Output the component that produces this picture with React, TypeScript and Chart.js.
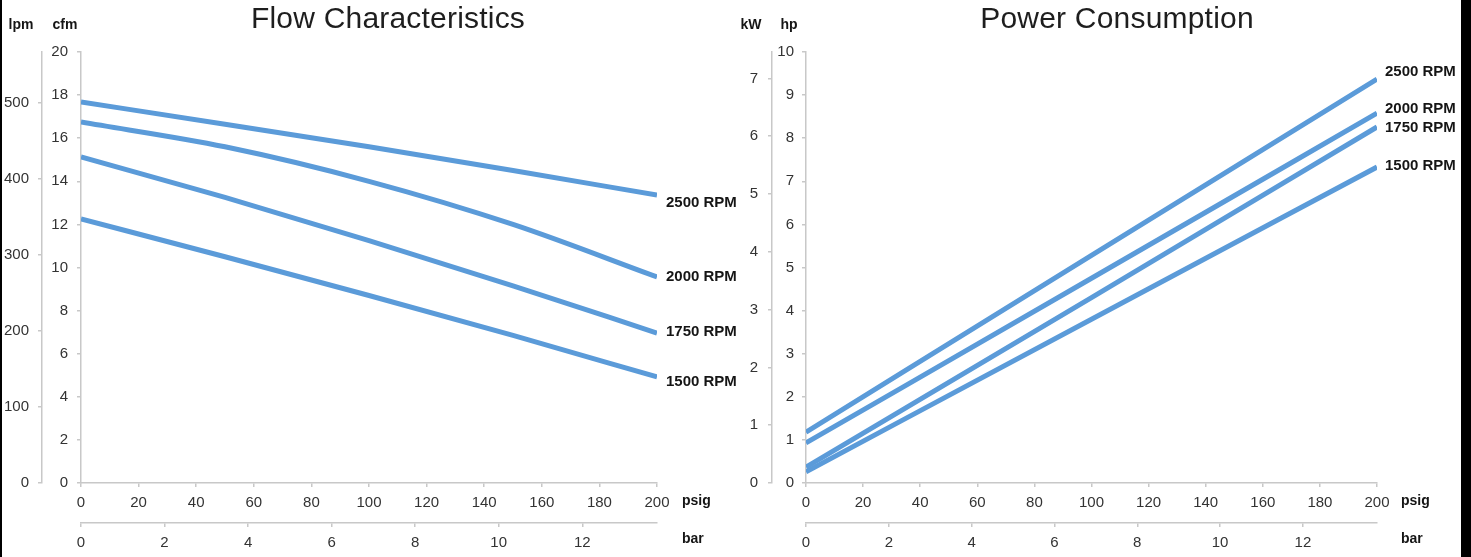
import { useEffect, useRef } from "react";
import { Chart, registerables } from "chart.js";

Chart.register(...registerables);

// ---------------- data ----------------
const rpmLabels = ["2500 RPM", "2000 RPM", "1750 RPM", "1500 RPM"];

const flowPsig = [0, 50, 100, 150, 200];
const flow2500 = [17.68, 16.65, 15.6, 14.5, 13.36];
const flow2000 = [16.75, 15.6, 14.0, 12.0, 9.56];
const flow1750 = [15.13, 13.25, 11.25, 9.15, 6.96];
const flow1500 = [12.25, 10.5, 8.7, 6.85, 4.92];

const powerPsig = [0, 100, 200];
const power2500 = [1.18, 5.28, 9.37];
const power2000 = [0.93, 4.75, 8.58];
const power1750 = [0.37, 4.3, 8.26];
const power1500 = [0.26, 3.8, 7.33];

const psigTicks = [0, 20, 40, 60, 80, 100, 120, 140, 160, 180, 200];
const barTicks = [0, 2, 4, 6, 8, 10, 12];
const cfmTicks = [0, 2, 4, 6, 8, 10, 12, 14, 16, 18, 20];
const lpmTicks = [0, 100, 200, 300, 400, 500];
const hpTicks = [0, 1, 2, 3, 4, 5, 6, 7, 8, 9, 10];
const kwTicks = [0, 1, 2, 3, 4, 5, 6, 7];

const PSI_PER_BAR = 14.5038;
const LPM_PER_CFM = 28.3168;
const KW_PER_HP = 0.7457;

// ---------------- style ----------------
const AXIS_COLOR = "#c8c8c8";
const TEXT_COLOR = "#333333";
const LABEL_COLOR = "#151515";
const LINE_COLOR = "#5b9bd9";
const FONT = "'Liberation Sans', Arial, Helvetica, sans-serif";
const TITLE_FONT = "'Liberation Sans', Arial, Helvetica, sans-serif";

const panelText = {
  id: "panelText",
  afterDraw(chart: any, _args: any, opts: any) {
    const ctx = chart.ctx as any;
    const area = chart.chartArea;
    ctx.save();
    ctx.fillStyle = "#1e1e1e";
    ctx.textAlign = "center";
    ctx.textBaseline = "alphabetic";
    ctx.font = `300 ${opts.titleSize}px ${TITLE_FONT}`;
    ctx.letterSpacing = opts.titleSpacing;
    ctx.fillText(opts.title, opts.titleX, opts.titleBaseline);
    ctx.letterSpacing = "0px";

    ctx.fillStyle = LABEL_COLOR;
    ctx.font = `bold 14px ${FONT}`;
    opts.headers.forEach((h: any) => ctx.fillText(h.text, h.x, opts.headerBaseline));

    ctx.textAlign = "left";
    ctx.textBaseline = "middle";
    const xs = chart.scales.x;
    const xb = chart.scales.xBar;
    ctx.fillText("psig", area.right + opts.unitDx, xs.top + 18);
    ctx.fillText("bar", area.right + opts.unitDx, xb.top + 16);

    ctx.font = `bold 15px ${FONT}`;
    chart.data.datasets.forEach((ds: any, i: number) => {
      const meta = chart.getDatasetMeta(i);
      const pt = meta.data[meta.data.length - 1];
      ctx.fillText(ds.label, pt.x + opts.labelDx, pt.y + opts.labelDy[i]);
    });
    ctx.restore();
  },
};

function axisCommon(padding: number) {
  return {
    grid: {
      display: true,
      drawOnChartArea: false,
      drawTicks: true,
      tickLength: 4,
      color: AXIS_COLOR,
      lineWidth: 1.5,
    },
    border: { display: true, color: AXIS_COLOR, width: 1.5 },
    ticks: {
      color: TEXT_COLOR,
      font: { family: FONT, size: 15 },
      padding,
      maxRotation: 0,
      autoSkip: false,
    },
  };
}

function setTicks(values: number[]) {
  return (scale: any) => {
    scale.ticks = values.map((v) => ({ value: v }));
  };
}

type Panel = {
  xs: number[];
  series: number[][];
  yMax: number;
  yTicks: number[];
  altMax: number;
  altTicks: number[];
  innerWidth: number;
  outerWidth: number;
  innerPad: number;
  outerPad: number;
  rightPad: number;
  text: any;
};

function makeConfig(p: Panel): any {
  return {
    type: "line",
    data: {
      datasets: p.series.map((vals, i) => ({
        label: rpmLabels[i],
        data: vals.map((v, j) => ({ x: p.xs[j], y: v })),
        borderColor: LINE_COLOR,
        borderWidth: 5,
        pointRadius: 0,
        fill: false,
        cubicInterpolationMode: "monotone",
        xAxisID: "x",
        yAxisID: "y",
      })),
    },
    options: {
      animation: false,
      responsive: false,
      maintainAspectRatio: false,
      layout: { padding: { top: 52, left: 0, right: p.rightPad, bottom: 0 } },
      plugins: {
        legend: { display: false },
        tooltip: { enabled: false },
        title: { display: false },
        panelText: p.text,
      },
      scales: {
        x: {
          type: "linear",
          position: "bottom",
          min: 0,
          max: 200,
          weight: 0,
          afterBuildTicks: setTicks(psigTicks),
          afterFit: (s: any) => {
            s.height = 40;
          },
          ...axisCommon(7),
        },
        xBar: {
          type: "linear",
          position: "bottom",
          min: 0,
          max: 200 / PSI_PER_BAR,
          weight: 1,
          afterBuildTicks: setTicks(barTicks),
          afterFit: (s: any) => {
            s.height = 34;
          },
          ...axisCommon(7),
        },
        y: {
          type: "linear",
          position: "left",
          min: 0,
          max: p.yMax,
          weight: 0,
          afterBuildTicks: setTicks(p.yTicks),
          afterFit: (s: any) => {
            s.width = p.innerWidth;
          },
          ...axisCommon(p.innerPad),
        },
        yAlt: {
          type: "linear",
          position: "left",
          min: 0,
          max: p.altMax,
          weight: 1,
          afterBuildTicks: setTicks(p.altTicks),
          afterFit: (s: any) => {
            s.width = p.outerWidth;
          },
          ...axisCommon(p.outerPad),
        },
      },
    },
    plugins: [panelText],
  };
}

const flowPanel: Panel = {
  xs: flowPsig,
  series: [flow2500, flow2000, flow1750, flow1500],
  yMax: 20,
  yTicks: cfmTicks,
  altMax: 20 * LPM_PER_CFM,
  altTicks: lpmTicks,
  innerWidth: 39,
  outerWidth: 42,
  innerPad: 9,
  outerPad: 9,
  rightPad: 740 - 657,
  text: {
    title: "Flow Characteristics",
    titleX: 388,
    titleBaseline: 28,
    titleSize: 30,
    titleSpacing: "0.2px",
    headerBaseline: 29,
    headers: [
      { text: "lpm", x: 21 },
      { text: "cfm", x: 65 },
    ],
    unitDx: 25,
    labelDx: 9,
    labelDy: [8, 0, -1, 5],
  },
};

const powerPanel: Panel = {
  xs: powerPsig,
  series: [power2500, power2000, power1750, power1500],
  yMax: 10,
  yTicks: hpTicks,
  altMax: 10 * KW_PER_HP,
  altTicks: kwTicks,
  innerWidth: 34,
  outerWidth: 52,
  innerPad: 8,
  outerPad: 10,
  rightPad: 751 - 657,
  text: {
    title: "Power Consumption",
    titleX: 397,
    titleBaseline: 28,
    titleSize: 30,
    titleSpacing: "0.2px",
    headerBaseline: 29,
    headers: [
      { text: "kW", x: 31 },
      { text: "hp", x: 69 },
    ],
    unitDx: 24,
    labelDx: 8,
    labelDy: [-7, -4, 1, -1],
  },
};

function PanelChart({ panel, left, width }: { panel: Panel; left: number; width: number }) {
  const ref = useRef<HTMLCanvasElement | null>(null);
  useEffect(() => {
    if (!ref.current) return;
    const chart = new Chart(ref.current, makeConfig(panel));
    return () => chart.destroy();
  }, [panel]);
  return (
    <canvas
      ref={ref}
      width={width}
      height={557}
      style={{ position: "absolute", left, top: 0, width, height: 557 }}
    />
  );
}

export default function App() {
  return (
    <div
      style={{
        position: "fixed",
        left: 0,
        top: 0,
        width: 1471,
        height: 557,
        background: "#ffffff",
        overflow: "hidden",
      }}
    >
      <PanelChart panel={flowPanel} left={0} width={740} />
      <PanelChart panel={powerPanel} left={720} width={751} />
      <div style={{ position: "absolute", left: 0, top: 0, width: 2, height: 557, background: "#000" }} />
      <div style={{ position: "absolute", right: 0, top: 0, width: 10, height: 557, background: "#000" }} />
    </div>
  );
}
